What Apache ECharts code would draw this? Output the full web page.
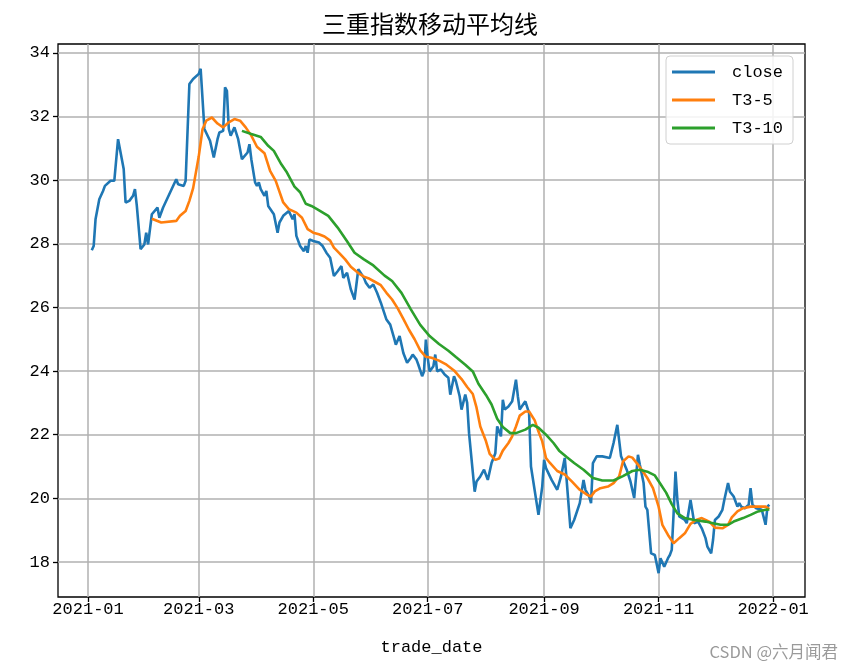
<!DOCTYPE html>
<html>
<head>
<meta charset="utf-8">
<script src="https://cdn.jsdelivr.net/npm/echarts@6/dist/echarts.min.js"></script>
<style>
html,body{margin:0;padding:0;background:#fff;}
#chart{width:854px;height:670px;}
</style>
</head>
<body>
<div id="chart"></div>
<script>
// ---- data ----
const titleText = '三重指数移动平均线';
const xAxisName = 'trade_date';
const seriesNames = ['close', 'T3-5', 'T3-10'];
const xTickDates = ['2021-01-01','2021-03-01','2021-05-01','2021-07-01','2021-09-01','2021-11-01','2022-01-01'];
const yTickValues = [18, 20, 22, 24, 26, 28, 30, 32, 34];
const xRange = ['2020-12-16', '2022-01-18'];
const yRange = [16.9, 34.28];

const closeData = [
['2021-01-03',27.80],['2021-01-04',27.93],['2021-01-05',28.77],['2021-01-06',28.79],['2021-01-07',29.40],['2021-01-09',29.66],['2021-01-10',29.82],['2021-01-11',29.77],['2021-01-13',29.98],['2021-01-15',29.98],
['2021-01-17',31.29],['2021-01-18',31.29],['2021-01-20',30.35],['2021-01-21',29.30],['2021-01-23',29.35],['2021-01-25',29.51],['2021-01-26',29.72],['2021-01-27',29.19],['2021-01-29',27.83],['2021-01-31',27.98],
['2021-02-01',28.35],['2021-02-02',27.98],['2021-02-03',27.93],['2021-02-04',28.93],['2021-02-07',29.14],['2021-02-08',28.82],['2021-02-10',29.14],['2021-02-17',30.03],['2021-02-18',29.87],['2021-02-21',29.82],
['2021-02-22',29.98],['2021-02-24',33.02],['2021-02-26',33.18],['2021-03-01',33.34],['2021-03-02',33.50],['2021-03-04',31.61],['2021-03-07',31.24],['2021-03-09',30.71],['2021-03-11',31.29],['2021-03-12',31.50],
['2021-03-14',31.55],['2021-03-15',32.92],['2021-03-16',32.81],['2021-03-17',31.61],['2021-03-18',31.40],['2021-03-20',31.66],['2021-03-22',31.29],['2021-03-24',30.66],['2021-03-27',30.87],['2021-03-28',31.13],
['2021-03-29',30.66],['2021-03-31',29.93],['2021-04-01',29.82],['2021-04-02',29.93],['2021-04-03',29.72],['2021-04-05',29.51],['2021-04-06',29.66],['2021-04-07',29.19],['2021-04-10',28.93],['2021-04-12',28.35],
['2021-04-13',28.67],['2021-04-15',28.88],['2021-04-18',29.03],['2021-04-20',28.77],['2021-04-21',28.93],['2021-04-22',28.25],['2021-04-24',27.93],['2021-04-26',27.77],['2021-04-27',27.93],['2021-04-28',27.72],
['2021-04-29',28.14],['2021-05-01',28.09],['2021-05-04',28.04],['2021-05-06',27.93],['2021-05-08',27.72],['2021-05-10',27.56],['2021-05-12',26.99],['2021-05-14',27.14],['2021-05-16',27.30],['2021-05-17',26.93],
['2021-05-19',27.09],['2021-05-21',26.57],['2021-05-23',26.25],['2021-05-25',27.20],['2021-05-26',27.14],['2021-05-28',26.93],['2021-05-29',26.78],['2021-05-31',26.62],['2021-06-02',26.72],['2021-06-04',26.46],
['2021-06-06',26.15],['2021-06-07',26.09],['2021-06-09',25.62],['2021-06-11',25.46],['2021-06-13',25.05],['2021-06-14',24.83],['2021-06-16',25.10],['2021-06-18',24.57],['2021-06-20',24.26],['2021-06-22',24.42],
['2021-06-23',24.52],['2021-06-25',24.36],['2021-06-26',24.20],['2021-06-28',23.84],['2021-06-29',23.99],['2021-06-30',24.99],['2021-07-01',24.40],['2021-07-02',23.99],['2021-07-04',24.15],['2021-07-05',24.52],
['2021-07-06',23.99],['2021-07-08',24.05],['2021-07-10',23.89],['2021-07-12',23.79],['2021-07-13',23.26],['2021-07-15',23.84],['2021-07-16',23.68],['2021-07-18',23.21],['2021-07-19',22.79],['2021-07-21',23.26],
['2021-07-22',23.00],['2021-07-23',22.05],['2021-07-26',20.21],['2021-07-27',20.53],['2021-07-29',20.69],['2021-07-31',20.90],['2021-08-02',20.58],['2021-08-04',21.11],['2021-08-06',21.42],['2021-08-07',22.26],
['2021-08-09',21.95],['2021-08-10',23.10],['2021-08-11',22.79],['2021-08-13',22.89],['2021-08-15',23.05],['2021-08-17',23.73],['2021-08-18',23.21],['2021-08-19',22.79],['2021-08-22',23.05],['2021-08-24',22.68],
['2021-08-25',21.00],['2021-08-26',20.95],['2021-08-29',19.48],['2021-08-31',20.37],['2021-09-01',21.21],['2021-09-02',20.95],['2021-09-05',20.58],['2021-09-06',20.53],['2021-09-08',20.27],['2021-09-10',20.69],
['2021-09-12',21.27],['2021-09-13',20.58],['2021-09-15',19.06],['2021-09-17',19.32],['2021-09-20',19.85],['2021-09-22',20.58],['2021-09-23',20.27],['2021-09-25',20.06],['2021-09-26',19.85],['2021-09-27',21.11],
['2021-09-29',21.32],['2021-10-02',21.32],['2021-10-06',21.27],['2021-10-08',21.74],['2021-10-10',22.31],['2021-10-11',22.31],['2021-10-12',21.32],['2021-10-15',20.90],['2021-10-17',20.53],['2021-10-19',20.01],
['2021-10-21',21.37],['2021-10-22',21.06],['2021-10-24',20.48],['2021-10-25',19.74],['2021-10-26',19.64],['2021-10-28',18.27],['2021-10-30',18.22],['2021-11-01',17.65],['2021-11-02',18.12],['2021-11-04',17.85],
['2021-11-06',18.12],['2021-11-07',18.22],['2021-11-08',18.38],['2021-11-09',19.53],['2021-11-10',20.84],['2021-11-11',19.95],['2021-11-12',19.43],['2021-11-13',19.38],['2021-11-15',19.32],['2021-11-16',19.22],
['2021-11-18',19.95],['2021-11-19',19.59],['2021-11-20',19.22],['2021-11-22',19.27],['2021-11-24',19.06],['2021-11-26',18.75],['2021-11-27',18.48],['2021-11-29',18.27],['2021-11-30',18.69],['2021-12-01',19.32],
['2021-12-03',19.43],['2021-12-05',19.64],['2021-12-06',19.95],['2021-12-07',19.90],['2021-12-08',20.48],['2021-12-09',20.21],['2021-12-11',20.06],['2021-12-13',19.74],['2021-12-14',19.85],['2021-12-15',19.74],
['2021-12-17',19.69],['2021-12-18',19.74],['2021-12-19',19.80],['2021-12-20',20.32],['2021-12-21',19.80],['2021-12-23',19.69],['2021-12-26',19.64],['2021-12-27',19.69],['2021-12-28',19.17],['2021-12-29',19.74],
['2021-12-30',19.80]
];

const t3_5Data = [
['2021-02-04',28.79],['2021-02-09',28.67],['2021-02-17',28.72],['2021-02-19',28.88],['2021-02-22',29.03],['2021-02-24',29.35],['2021-02-26',29.75],['2021-03-01',30.75],['2021-03-03',31.60],['2021-03-05',31.87],
['2021-03-08',31.97],['2021-03-11',31.78],['2021-03-14',31.66],['2021-03-17',31.82],['2021-03-20',31.92],['2021-03-23',31.87],['2021-03-26',31.66],['2021-03-29',31.40],['2021-04-01',31.05],['2021-04-05',30.85],
['2021-04-08',30.29],['2021-04-11',29.98],['2021-04-15',29.30],['2021-04-18',29.09],['2021-04-22',28.98],['2021-04-25',28.82],['2021-04-28',28.46],['2021-05-01',28.35],['2021-05-04',28.30],['2021-05-07',28.23],
['2021-05-10',28.10],['2021-05-12',27.88],['2021-05-15',27.70],['2021-05-18',27.51],['2021-05-21',27.28],['2021-05-25',27.08],['2021-05-28',26.97],['2021-05-31',26.90],['2021-06-03',26.80],['2021-06-06',26.70],
['2021-06-09',26.46],['2021-06-12',26.25],['2021-06-15',25.97],['2021-06-18',25.64],['2021-06-21',25.30],['2021-06-24',25.00],['2021-06-27',24.65],['2021-06-30',24.45],['2021-07-03',24.42],['2021-07-07',24.33],
['2021-07-11',24.20],['2021-07-15',24.02],['2021-07-19',23.75],['2021-07-22',23.50],['2021-07-25',23.28],['2021-07-27',22.85],['2021-07-29',22.26],['2021-08-01',21.80],['2021-08-03',21.40],['2021-08-06',21.21],
['2021-08-08',21.25],['2021-08-10',21.50],['2021-08-13',21.74],['2021-08-15',21.95],['2021-08-17',22.26],['2021-08-19',22.60],['2021-08-22',22.73],['2021-08-24',22.73],['2021-08-27',22.45],['2021-08-29',22.10],
['2021-08-31',21.79],['2021-09-02',21.27],['2021-09-04',21.12],['2021-09-08',20.86],['2021-09-12',20.75],['2021-09-16',20.52],['2021-09-20',20.27],['2021-09-24',20.11],['2021-09-26',20.06],['2021-09-28',20.22],
['2021-10-01',20.32],['2021-10-05',20.37],['2021-10-08',20.48],['2021-10-11',20.69],['2021-10-13',21.16],['2021-10-16',21.32],['2021-10-18',21.28],['2021-10-21',21.06],['2021-10-23',20.90],['2021-10-26',20.64],
['2021-10-29',20.32],['2021-11-01',19.74],['2021-11-03',19.17],['2021-11-06',18.85],['2021-11-09',18.59],['2021-11-12',18.75],['2021-11-15',18.90],['2021-11-18',19.20],['2021-11-21',19.32],['2021-11-24',19.38],
['2021-11-28',19.27],['2021-12-01',19.08],['2021-12-05',19.06],['2021-12-08',19.17],['2021-12-10',19.40],['2021-12-13',19.59],['2021-12-16',19.69],['2021-12-20',19.74],['2021-12-24',19.74],['2021-12-28',19.74],
['2021-12-30',19.66]
];

const t3_10Data = [
['2021-03-24',31.55],['2021-03-29',31.45],['2021-04-03',31.36],['2021-04-07',31.08],['2021-04-10',30.92],['2021-04-14',30.50],['2021-04-17',30.24],['2021-04-21',29.80],['2021-04-24',29.62],['2021-04-27',29.26],
['2021-04-30',29.19],['2021-05-03',29.09],['2021-05-09',28.88],['2021-05-14',28.51],['2021-05-19',28.08],['2021-05-23',27.72],['2021-05-28',27.51],['2021-06-02',27.32],['2021-06-08',27.00],['2021-06-12',26.83],
['2021-06-17',26.46],['2021-06-22',25.94],['2021-06-27',25.45],['2021-07-02',25.10],['2021-07-07',24.85],['2021-07-12',24.64],['2021-07-16',24.44],['2021-07-21',24.20],['2021-07-25',23.99],['2021-07-28',23.60],
['2021-08-01',23.25],['2021-08-04',22.95],['2021-08-07',22.50],['2021-08-10',22.24],['2021-08-14',22.05],['2021-08-17',22.05],['2021-08-22',22.16],['2021-08-26',22.31],['2021-08-29',22.22],['2021-09-02',22.00],
['2021-09-06',21.74],['2021-09-09',21.50],['2021-09-13',21.30],['2021-09-17',21.11],['2021-09-22',20.90],['2021-09-27',20.64],['2021-10-02',20.56],['2021-10-08',20.56],['2021-10-13',20.70],['2021-10-18',20.86],
['2021-10-22',20.90],['2021-10-26',20.84],['2021-10-30',20.72],['2021-11-02',20.45],['2021-11-05',20.18],['2021-11-08',19.82],['2021-11-11',19.53],['2021-11-15',19.38],['2021-11-20',19.32],['2021-11-26',19.27],
['2021-11-30',19.22],['2021-12-04',19.17],['2021-12-08',19.17],['2021-12-11',19.27],['2021-12-16',19.38],['2021-12-20',19.48],['2021-12-24',19.59],['2021-12-28',19.64],['2021-12-30',19.65]
];

const seriesColors = ['#1f77b4', '#ff7f0e', '#2ca02c'];
const watermarkText = 'CSDN @六月闻君';

// ---- build ----
function ts(s) {
  const p = s.split('-').map(Number);
  return Date.UTC(p[0], p[1] - 1, p[2]);
}
function toPairs(arr) { return arr.map(d => [ts(d[0]), d[1]]); }
const tickFont = 'Liberation Mono';
const cjkFont = '"Noto Sans CJK SC"';

const chart = echarts.init(document.getElementById('chart'), null, {renderer: 'canvas'});
const xTicks = xTickDates.map(ts);

const allData = [closeData, t3_5Data, t3_10Data];
chart.setOption({
  animation: false,
  backgroundColor: '#fff',
  title: {
    text: titleText,
    left: 425, top: 7, textAlign: 'center',
    textStyle: {fontFamily: cjkFont, fontSize: 24, fontWeight: 'normal', color: '#000'}
  },
  grid: {left: 58, top: 44, right: 49, bottom: 73, show: true, borderColor: '#000', borderWidth: 1.3, backgroundColor: 'transparent'},
  legend: {
    orient: 'vertical', left: 666, top: 56,
    padding: [6, 10, 6, 6], itemGap: 8, itemWidth: 43, itemHeight: 3,
    icon: 'rect',
    borderColor: '#d0d0d0', borderWidth: 1, borderRadius: 4,
    backgroundColor: 'rgba(255,255,255,0.85)',
    textStyle: {fontFamily: tickFont, fontSize: 17, color: '#000', padding: [0, 0, 0, 12], lineHeight: 20},
    data: seriesNames
  },
  xAxis: {
    type: 'value',
    min: ts(xRange[0]), max: ts(xRange[1]),
    name: xAxisName, nameLocation: 'middle', nameGap: 42,
    nameTextStyle: {fontFamily: tickFont, fontSize: 17, color: '#000'},
    axisLine: {show: false},
    axisTick: {show: true, customValues: xTicks, length: 5, lineStyle: {color: '#000', width: 1.3}},
    axisLabel: {
      customValues: xTicks, margin: 4,
      fontFamily: tickFont, fontSize: 17, color: '#000',
      formatter: function (v) {
        const d = new Date(v);
        const m = d.getUTCMonth() + 1;
        return d.getUTCFullYear() + '-' + (m < 10 ? '0' + m : m);
      }
    },
    splitLine: {show: true, lineStyle: {color: '#b0b0b0', width: 1.5}}
  },
  yAxis: {
    type: 'value',
    min: yRange[0], max: yRange[1],
    axisLine: {show: false},
    axisTick: {show: true, customValues: yTickValues, length: 5, lineStyle: {color: '#000', width: 1.3}},
    axisLabel: {customValues: yTickValues, margin: 8, fontFamily: tickFont, fontSize: 17, color: '#000'},
    splitLine: {show: true, lineStyle: {color: '#b0b0b0', width: 1.5}}
  },
  graphic: [{
    type: 'text', right: 16, bottom: 10,
    style: {text: watermarkText, fill: '#9a9a9a', font: '16.5px "Noto Sans CJK SC"'}
  }],
  series: seriesNames.map((n, i) => ({
    name: n, type: 'line', showSymbol: false, symbol: 'none',
    data: toPairs(allData[i]),
    lineStyle: {color: seriesColors[i], width: 2.6},
    itemStyle: {color: seriesColors[i]},
    z: 2 + i
  }))
});
</script>
</body>
</html>
